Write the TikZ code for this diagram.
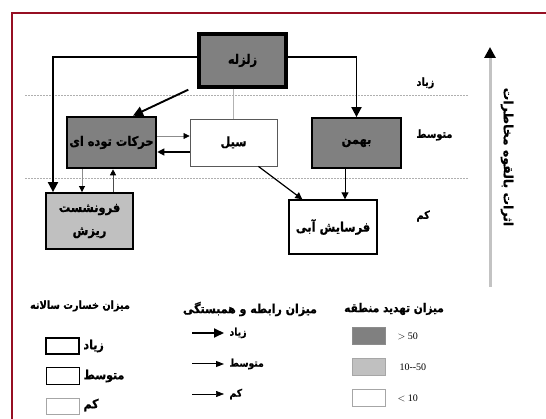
\documentclass[tikz,border=0pt]{standalone}
\usepackage{fontspec}
\newfontfamily\fa[Script=Arabic, FakeStretch=0.88, FakeBold=0.8]{DejaVu Sans Bold}
\newfontfamily\faw[Script=Arabic, FakeBold=0.6]{DejaVu Sans Bold}
\newfontfamily\numfont{Liberation Serif}
\TeXXeTstate=1
\usetikzlibrary{arrows.meta}
\definecolor{framered}{RGB}{150,15,35}
\definecolor{thrhigh}{RGB}{128,128,128}
\definecolor{thrmid}{RGB}{192,192,192}
\definecolor{levelgray}{RGB}{175,175,175}
\definecolor{axisgray}{RGB}{195,195,195}
\newcommand{\fatxt}[1]{{\fa\beginR #1\endR}}

\begin{document}
\begin{tikzpicture}[x=1pt,y=-1pt,
	hazard/.style={draw, inner sep=0pt, align=center, font=\fontsize{13}{15}\selectfont},
	dmghigh/.style={line width=2.6pt},
	dmgmid/.style={line width=1.8pt},
	dmglow/.style={line width=0.9pt, draw=black!65},
	thick arrow/.style={line width=1.9pt, -{Triangle[length=10pt,width=10pt]}},
	mid arrow/.style={line width=1.2pt, -{Triangle[length=7pt,width=7pt]}},
	thin arrow/.style={line width=0.7pt, draw=black!45, -{Triangle[length=6pt,width=6pt,color=black]}},
	levelline/.style={levelgray, line width=0.8pt, dash pattern=on 2pt off 1pt},
	levellbl/.style={anchor=west, font=\fontsize{11}{13}\selectfont},
	legtitle/.style={font=\fontsize{11}{13}\selectfont},
	legbox/.style={draw, inner sep=0pt, minimum width=33pt, minimum height=16pt},
	leglbl/.style={anchor=west, font=\fontsize{10.5}{12}\selectfont},
	numlbl/.style={anchor=west, font=\numfont\fontsize{10}{12}\selectfont}]
\useasboundingbox (0,0) rectangle (546,419);
% frame
\draw[framered, line width=2.8pt] (12,419) -- (12,13) -- (546,13);
% levels
\draw[levelline] (25,95) -- (468,95);
\draw[levelline] (25,178) -- (468,178);
\node[levellbl] (lvhigh) at (413,83) {\fatxt{زیاد}};
\node[levellbl] (lvmid) at (413,135) {\fatxt{متوسط}};
\node[levellbl] (lvlow) at (413,216) {\fatxt{کم}};
% axis
\coordinate (axbot) at (490,287);
\coordinate (axtop) at (490,47);
\draw[axisgray, line width=3pt, -{Triangle[length=11pt,width=11pt,color=black]}] (axbot) -- (axtop);
\node[rotate=-90, font=\faw\fontsize{12.5}{14}\selectfont] (axlbl) at (507,157) {\beginR اثرات بالقوه مخاطرات\endR};

% hazards
\node[hazard, dmghigh, line width=3.4pt, fill=thrhigh, minimum width=87pt, minimum height=53pt] (zelzele) at (242.5,60.5) {\fatxt{زلزله}};
\node[hazard, dmghigh, fill=thrhigh, minimum width=89pt, minimum height=51pt] (harakat) at (111.5,142.5) {\fatxt{حرکات توده ای}};
\node[hazard, dmglow, fill=white, minimum width=87pt, minimum height=47pt] (seil) at (233.5,142.5) {\fatxt{سیل}};
\node[hazard, dmgmid, fill=thrhigh, minimum width=89pt, minimum height=50pt] (bahman) at (356.5,143) {\fatxt{بهمن}};
\node[hazard, dmgmid, fill=thrmid, minimum width=87pt, minimum height=56pt] (foroo) at (89.5,221) {\fatxt{فرونشست}\\[8pt]\fatxt{ریزش}};
\node[hazard, line width=1.4pt, fill=white, minimum width=88pt, minimum height=54pt] (farsayesh) at (333,227) {\fatxt{فرسایش آبی}};

% relations
\draw[thick arrow] ([yshift=3.5pt]zelzele.west) -| ([xshift=-36.5pt]foroo.north);
\draw[thick arrow] ([yshift=3.5pt]zelzele.east) -| (bahman.north);
\draw[thick arrow] ([xshift=-9pt,yshift=-1pt]zelzele.south west) -- ([xshift=21.5pt]harakat.north);
\draw[black!30, line width=0.7pt] (seil.north |- zelzele.south) -- (seil.north);
\draw[thin arrow] ([yshift=6.5pt]harakat.east) -- ([yshift=6.5pt]seil.west);
\draw[mid arrow] ([yshift=-9.5pt]seil.west) -- ([yshift=-9.5pt]harakat.east);
\draw[thin arrow] ([xshift=-7.5pt]harakat.south -| foroo.north) -- ([xshift=-7.5pt]foroo.north);
\draw[thin arrow, draw=black!70] ([xshift=23.5pt]foroo.north) -- ([xshift=23.5pt]foroo.north |- harakat.south);
\draw[mid arrow] ([xshift=-19pt]seil.south east) -- ([xshift=14pt]farsayesh.north west);
\draw[mid arrow, line width=1pt] ([xshift=-11.5pt]bahman.south) -- ([xshift=-11.5pt]bahman.south |- farsayesh.north);

% legend: damage
\node[legtitle] (tdmg) at (80,306) {\fatxt{میزان خسارت سالانه}};
\node[legbox, line width=1.8pt] (bdmg1) at (62.5,346) {};
\node[legbox, line width=1pt] (bdmg2) at (62.5,376) {};
\node[legbox, line width=1pt, draw=black!35] (bdmg3) at (62.5,406) {};
\node[leglbl, font=\fontsize{12.5}{14}\selectfont] (ldmg1) at (80,346) {\fatxt{زیاد}};
\node[leglbl, font=\fontsize{12.5}{14}\selectfont] (ldmg2) at (80,376) {\fatxt{متوسط}};
\node[leglbl, font=\fontsize{12.5}{14}\selectfont] (ldmg3) at (80,405) {\fatxt{کم}};
% legend: relation
\node[legtitle, font=\fontsize{12.5}{14}\selectfont] (trel) at (250,309) {\fatxt{میزان رابطه و همبستگی}};
\node[leglbl] (lrel1) at (226,333) {\fatxt{زیاد}};
\node[leglbl] (lrel2) at (226,364) {\fatxt{متوسط}};
\node[leglbl] (lrel3) at (226,394) {\fatxt{کم}};
\draw[line width=2pt, -{Triangle[length=10pt,width=9pt]}] ([xshift=-34pt]lrel1.west) -- ([xshift=-2pt]lrel1.west);
\draw[line width=1pt, -{Triangle[length=8pt,width=6pt]}] ([xshift=-34pt]lrel2.west) -- ([xshift=-2pt]lrel2.west);
\draw[line width=0.6pt, -{Triangle[length=8pt,width=6pt]}] ([xshift=-34pt]lrel3.west) -- ([xshift=-2pt]lrel3.west);
% legend: threat
\node[legtitle, font=\fontsize{12}{14}\selectfont] (tthr) at (394,309) {\fatxt{میزان تهدید منطقه}};
\node[legbox, draw=black!45, line width=0.8pt, fill=thrhigh, minimum height=17pt] (bthr1) at (368.5,336) {};
\node[legbox, draw=black!35, line width=0.8pt, fill=thrmid, minimum height=17pt] (bthr2) at (368.5,367) {};
\node[legbox, draw=black!35, line width=0.8pt, fill=white, minimum height=17pt] (bthr3) at (368.5,398) {};
\node[numlbl] (lthr1) at (394,336) {$>$ 50};
\node[numlbl] (lthr2) at (396,367) {10--50};
\node[numlbl] (lthr3) at (394,398) {$<$ 10};
\end{tikzpicture}
\end{document}
